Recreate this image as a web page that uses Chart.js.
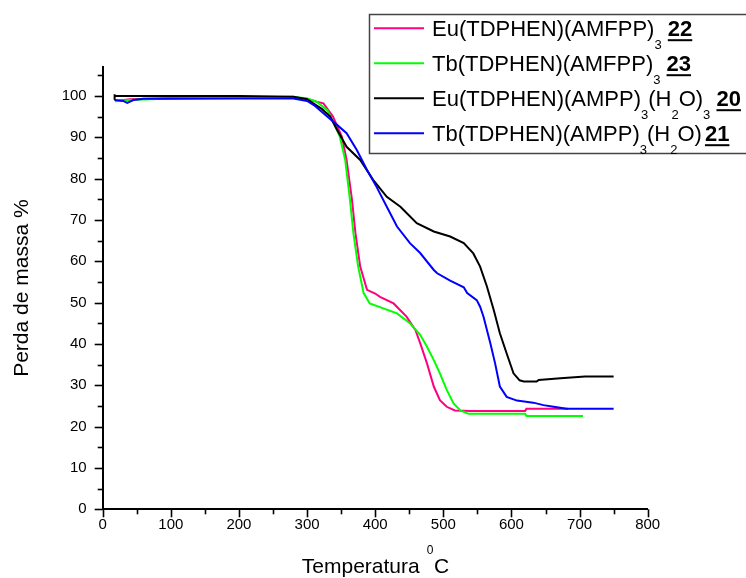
<!DOCTYPE html>
<html>
<head>
<meta charset="utf-8">
<script src="https://cdn.jsdelivr.net/npm/chart.js@4/dist/chart.umd.min.js"></script>
<style>
  html, body { margin: 0; padding: 0; background: #fff; }
  #wrap { width: 746px; height: 578px; position: relative; }
</style>
</head>
<body>
<div id="wrap"><canvas id="tga" width="746" height="578"></canvas></div>
<script>
// Thermogravimetric curves: temperature (°C) vs remaining mass (%)
const xTicks = [0, 100, 200, 300, 400, 500, 600, 700, 800];
const yTicks = [0, 10, 20, 30, 40, 50, 60, 70, 80, 90, 100];

const euAmfppT = [18, 40, 100, 200, 280, 300, 314, 324, 338, 351, 358, 366, 371, 378, 388, 400, 407, 427, 446, 459, 466, 476, 486, 495, 505, 517, 540, 620, 622, 683];
const euAmfppW = [98.8, 99.2, 99.5, 99.6, 99.6, 99.3, 98.6, 98.2, 95.0, 90.2, 84.5, 74.8, 66.8, 58.7, 53.1, 52.2, 51.4, 49.8, 46.6, 43.4, 40.2, 35.3, 29.7, 26.4, 24.8, 23.9, 23.8, 23.8, 24.3, 24.3];

const tbAmfppT = [18, 40, 100, 212, 280, 300, 314, 330, 348, 356, 363, 368, 375, 383, 392, 412, 432, 451, 466, 476, 486, 495, 505, 515, 525, 537, 620, 622, 705];
const tbAmfppW = [98.7, 99.0, 99.4, 99.6, 99.8, 99.4, 98.6, 96.5, 90.2, 84.5, 74.8, 66.8, 58.7, 52.3, 49.8, 48.6, 47.4, 45.0, 42.2, 39.3, 36.1, 32.9, 28.9, 25.6, 23.9, 23.1, 23.1, 22.6, 22.6];

const euAmppT = [17, 17, 18, 100, 200, 280, 300, 309, 322, 334, 344, 358, 378, 397, 417, 437, 461, 486, 510, 530, 544, 554, 564, 574, 583, 593, 603, 612, 618, 637, 640, 672, 708, 750];
const euAmppW = [99.1, 100.4, 100, 100, 100, 99.8, 99.2, 98.2, 96.8, 95.0, 91.8, 87.7, 84.5, 79.7, 75.6, 73.2, 69.2, 67.2, 66.0, 64.4, 61.9, 58.7, 53.9, 48.2, 42.6, 37.7, 32.9, 31.2, 30.9, 30.9, 31.3, 31.7, 32.1, 32.1];

const tbAmppT = [18, 30, 36, 45, 60, 100, 200, 280, 300, 310, 324, 344, 358, 373, 388, 402, 417, 432, 451, 466, 486, 491, 510, 530, 535, 549, 554, 559, 569, 576, 583, 593, 608, 632, 647, 662, 681, 750];
const tbAmppW = [99.0, 98.8, 98.3, 99.0, 99.3, 99.3, 99.4, 99.4, 98.8, 97.8, 95.8, 93.0, 91.0, 86.9, 82.1, 78.0, 73.2, 68.4, 64.4, 62.0, 57.9, 57.1, 55.3, 53.7, 52.3, 50.6, 49.0, 46.6, 40.2, 35.3, 29.7, 27.2, 26.3, 25.8, 25.2, 24.8, 24.3, 24.3];

const seriesNames = [
  'Eu(TDPHEN)(AMFPP)3 22',
  'Tb(TDPHEN)(AMFPP)3 23',
  'Eu(TDPHEN)(AMPP)3(H2O)3 20',
  'Tb(TDPHEN)(AMPP)3(H2O) 21'
];
// legend label pieces: n = normal, s = subscript, b = bold underlined compound number, t = thin gap
const legendPieces = [
  [['Eu(TDPHEN)(AMFPP)', 'n'], ['3', 's'], [' ', 'n'], ['22', 'b']],
  [['Tb(TDPHEN)(AMFPP)', 'n'], ['3', 's'], [' ', 'n'], ['23', 'b']],
  [['Eu(TDPHEN)(AMPP)', 'n'], ['3', 's'], ['(H', 'n'], ['2', 's'], ['O)', 'n'], ['3', 's'], [' ', 'n'], ['20', 'b']],
  [['Tb(TDPHEN)(AMPP)', 'n'], ['3', 's'], ['(H', 'n'], ['2', 's'], ['O)', 'n'], [' ', 't'], ['21', 'b']]
];
const seriesColors = ['#ff0080', '#00ff00', '#000000', '#0000ff'];

const FONT = '"Liberation Sans", Arial, Helvetica, sans-serif';

const pairs = (t, w) => t.map((v, i) => ({ x: v, y: w[i] }));

const withMinor = (majors) => {
  const out = [];
  majors.forEach((v, i) => {
    out.push(v);
    if (i < majors.length - 1) out.push((v + majors[i + 1]) / 2);
  });
  return out;
};

// outward major/minor tick marks on both axes
const axisTicks = {
  id: 'axisTicks',
  afterDraw(chart) {
    const { ctx, scales: { x, y } } = chart;
    ctx.save();
    ctx.strokeStyle = '#000';
    ctx.lineWidth = 1.6;
    x.ticks.forEach(t => {
      const px = Math.round(x.getPixelForValue(t.value)) + 0.5;
      const len = xTicks.includes(t.value) ? 8 : 5;
      ctx.beginPath(); ctx.moveTo(px, x.top); ctx.lineTo(px, x.top + len); ctx.stroke();
    });
    y.ticks.forEach(t => {
      const py = Math.round(y.getPixelForValue(t.value)) + 0.5;
      const len = yTicks.includes(t.value) ? 8 : 5;
      ctx.beginPath(); ctx.moveTo(y.right, py); ctx.lineTo(y.right - len, py); ctx.stroke();
    });
    ctx.restore();
  }
};

// x axis title with raised zero before the C
const xTitle = {
  id: 'xTitle',
  afterDraw(chart) {
    const { ctx, scales: { x } } = chart;
    const base = 573;
    const big = '21px ' + FONT, small = '12px ' + FONT;
    ctx.save();
    ctx.fillStyle = '#000';
    ctx.textBaseline = 'alphabetic';
    ctx.textAlign = 'left';
    ctx.font = big; const w1 = ctx.measureText('Temperatura').width;
    const gap = 7;
    ctx.font = small; const w2 = ctx.measureText('0').width;
    ctx.font = big; const w3 = ctx.measureText('C').width;
    const total = w1 + gap + w2 + w3;
    let cx = (x.left + x.right) / 2 - total / 2;
    ctx.font = big; ctx.fillText('Temperatura', cx, base); cx += w1 + gap;
    ctx.font = small; ctx.fillText('0', cx, base - 19); cx += w2 + 0.5;
    ctx.font = big; ctx.fillText('C', cx, base);
    ctx.restore();
  }
};

// boxed legend with subscripts and underlined compound numbers
const richLegend = {
  id: 'richLegend',
  afterDraw(chart) {
    const ctx = chart.ctx;
    const box = { l: 369.5, t: 14.5, r: 748, b: 153.5 };
    ctx.save();
    ctx.fillStyle = '#fff';
    ctx.fillRect(box.l, box.t, box.r - box.l, box.b - box.t);
    ctx.strokeStyle = '#444';
    ctx.lineWidth = 1.5;
    ctx.strokeRect(box.l, box.t, box.r - box.l, box.b - box.t);
    chart.data.datasets.forEach((ds, i) => {
      const rowY = 28.3 + i * 35;
      ctx.strokeStyle = ds.borderColor;
      ctx.lineWidth = 2;
      ctx.beginPath(); ctx.moveTo(374, rowY); ctx.lineTo(424, rowY); ctx.stroke();
      const base = rowY + 7.9;
      let cx = 432;
      ctx.fillStyle = '#000';
      ctx.textAlign = 'left';
      ctx.textBaseline = 'alphabetic';
      legendPieces[i].forEach(([txt, kind]) => {
        if (kind === 's') {
          ctx.font = '13px ' + FONT;
          ctx.fillText(txt, cx, base + 13);
          cx += ctx.measureText(txt).width;
        } else if (kind === 'b') {
          ctx.font = 'bold 22px ' + FONT;
          ctx.fillText(txt, cx, base);
          const w = ctx.measureText(txt).width;
          ctx.fillRect(cx, base + 3, w, 2);
          cx += w;
        } else if (kind === 't') {
          ctx.font = '11px ' + FONT;
          cx += ctx.measureText(txt).width;
        } else {
          ctx.font = '22px ' + FONT;
          ctx.fillText(txt, cx, base);
          cx += ctx.measureText(txt).width;
        }
      });
    });
    ctx.restore();
  }
};

const series = [
  [euAmfppT, euAmfppW],
  [tbAmfppT, tbAmfppW],
  [euAmppT, euAmppW],
  [tbAmppT, tbAmppW]
];

new Chart(document.getElementById('tga'), {
  type: 'line',
  data: {
    datasets: series.map(([t, w], i) => ({
      label: seriesNames[i],
      data: pairs(t, w),
      borderColor: seriesColors[i],
      backgroundColor: seriesColors[i],
      borderWidth: 2,
      pointRadius: 0,
      tension: 0,
      fill: false,
      order: series.length - i
    }))
  },
  options: {
    responsive: false,
    animation: false,
    devicePixelRatio: 1,
    layout: { padding: { left: 0, right: 98.3, top: 67, bottom: 0 } },
    plugins: { legend: { display: false }, tooltip: { enabled: false } },
    scales: {
      x: {
        type: 'linear',
        min: 0,
        max: 800,
        afterBuildTicks: s => { s.ticks = withMinor(xTicks).map(v => ({ value: v })); },
        afterFit: s => { s.height = 68.7; },
        grid: { display: false, drawTicks: false },
        border: { display: true, color: '#000', width: 2 },
        ticks: {
          autoSkip: false,
          maxRotation: 0,
          padding: 7,
          color: '#000',
          font: { family: FONT, size: 15 },
          callback: v => (xTicks.includes(v) ? String(v) : '')
        }
      },
      y: {
        type: 'linear',
        min: 0,
        max: 107,
        afterBuildTicks: s => { s.ticks = withMinor(yTicks).concat([105]).map(v => ({ value: v })); },
        afterFit: s => { s.width = 102.7; },
        grid: { display: false, drawTicks: false },
        border: { display: true, color: '#000', width: 2 },
        title: {
          display: true,
          text: 'Perda de massa %',
          color: '#000',
          font: { family: FONT, size: 21 },
          padding: { top: 10, bottom: 0 }
        },
        ticks: {
          autoSkip: false,
          padding: 16,
          color: '#000',
          font: { family: FONT, size: 15 },
          callback: v => (yTicks.includes(v) ? String(v) : '')
        }
      }
    }
  },
  plugins: [axisTicks, xTitle, richLegend]
});
</script>
</body>
</html>
